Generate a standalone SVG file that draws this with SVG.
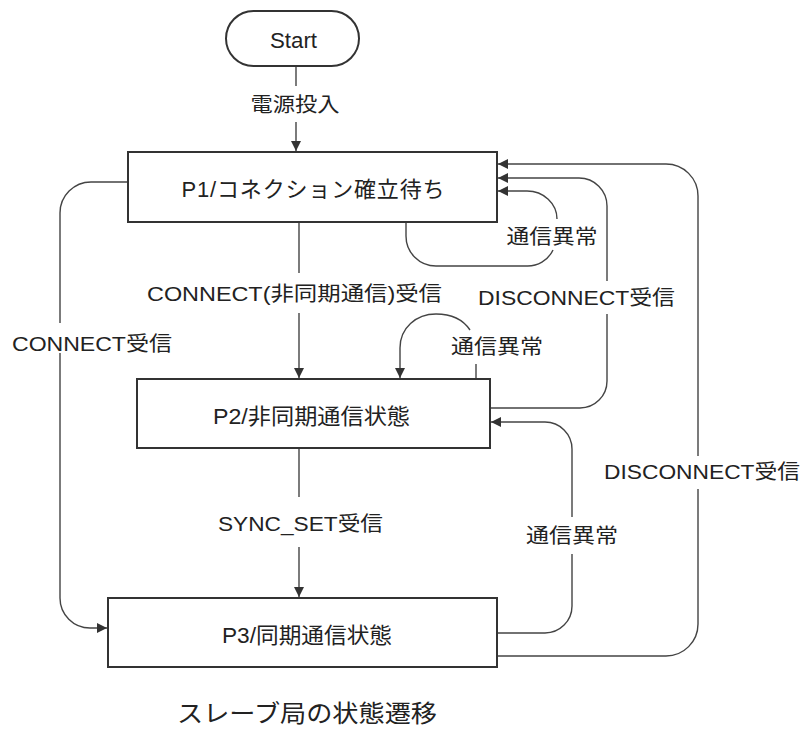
<svg xmlns="http://www.w3.org/2000/svg" width="802" height="729" viewBox="0 0 802 729">
<style>
.box{fill:#fff;stroke:#333;stroke-width:2}
.ln{fill:none;stroke:#444;stroke-width:1.4}
.t{font-family:"Liberation Sans","Noto Sans CJK JP",sans-serif;fill:#222;text-anchor:middle;font-size:20px}
.n{font-size:22px}
.ttl{font-size:24px}
</style>
<defs>
<marker id="ah" markerUnits="userSpaceOnUse" markerWidth="11" markerHeight="10" refX="10" refY="5" orient="auto">
<path d="M0,0 L10,5 L0,10 z" fill="#333"/>
</marker>
</defs>
<rect width="802" height="729" fill="#fff"/>
<g id="connectors">
<path class="ln" d="M296,66 V86"/>
<path class="ln" d="M296,122 V151" marker-end="url(#ah)"/>
<path class="ln" d="M299,222 V273"/>
<path class="ln" d="M299,313 V378" marker-end="url(#ah)"/>
<path class="ln" d="M299,448 V497"/>
<path class="ln" d="M299,547 V597" marker-end="url(#ah)"/>
<path class="ln" d="M128,182 H91 A31,31 0 0 0 60,213 V323"/>
<path class="ln" d="M60,353 V598 A30,30 0 0 0 90,628 H107" marker-end="url(#ah)"/>
<path class="ln" d="M406,222 V236 A30,30 0 0 0 436,266 H526 A28,28 0 0 0 553,250"/>
<path class="ln" d="M557,219 A30,28 0 0 0 527,191 H498" marker-end="url(#ah)"/>
<path class="ln" d="M490,408 H580 A27,27 0 0 0 607,381 V314"/>
<path class="ln" d="M607,281 V206 A28,28 0 0 0 579,178 H498" marker-end="url(#ah)"/>
<path class="ln" d="M497,656 H666 A32,32 0 0 0 698,624 V489"/>
<path class="ln" d="M698,456 V196 A32,32 0 0 0 666,164 H498" marker-end="url(#ah)"/>
<path class="ln" d="M497,633 H545 A27,27 0 0 0 572,606 V554"/>
<path class="ln" d="M572,517 V449 A27,27 0 0 0 545,422 H491" marker-end="url(#ah)"/>
<path class="ln" d="M476,379 V364"/>
<path class="ln" d="M470,330 C462,318 450,314 436,314 C416,314 400,328 400,348 V378" marker-end="url(#ah)"/>
<text class="t" x="295" y="112" textLength="89" lengthAdjust="spacingAndGlyphs">電源投入</text>
<text class="t" x="294.5" y="301" textLength="295" lengthAdjust="spacingAndGlyphs">CONNECT(非同期通信)受信</text>
<text class="t" x="552" y="244" textLength="91" lengthAdjust="spacingAndGlyphs">通信異常</text>
<text class="t" x="576.5" y="305" textLength="197" lengthAdjust="spacingAndGlyphs">DISCONNECT受信</text>
<text class="t" x="497" y="354" textLength="92" lengthAdjust="spacingAndGlyphs">通信異常</text>
<text class="t" x="92" y="351" textLength="160" lengthAdjust="spacingAndGlyphs">CONNECT受信</text>
<text class="t" x="300.5" y="531" textLength="165" lengthAdjust="spacingAndGlyphs">SYNC_SET受信</text>
<text class="t" x="572" y="543" textLength="92" lengthAdjust="spacingAndGlyphs">通信異常</text>
<text class="t" x="702" y="479" textLength="196" lengthAdjust="spacingAndGlyphs">DISCONNECT受信</text>
</g>
<g id="start">
<rect class="box" x="226" y="11" width="133" height="55" rx="27.5"/>
<text class="t n" x="293.5" y="48" textLength="47" lengthAdjust="spacingAndGlyphs">Start</text>
</g>
<g id="p1">
<rect class="box" x="128" y="152" width="369" height="70"/>
<text class="t n" x="313" y="197" textLength="263" lengthAdjust="spacing">P1/コネクション確立待ち</text>
</g>
<g id="p2">
<rect class="box" x="137" y="379" width="353" height="69"/>
<text class="t n" x="311.5" y="424" textLength="197" lengthAdjust="spacingAndGlyphs">P2/非同期通信状態</text>
</g>
<g id="p3">
<rect class="box" x="108" y="598" width="389" height="69"/>
<text class="t n" x="307" y="643" textLength="170" lengthAdjust="spacingAndGlyphs">P3/同期通信状態</text>
</g>
<text class="t ttl" x="307" y="722" textLength="260" lengthAdjust="spacingAndGlyphs">スレーブ局の状態遷移</text>
</svg>
